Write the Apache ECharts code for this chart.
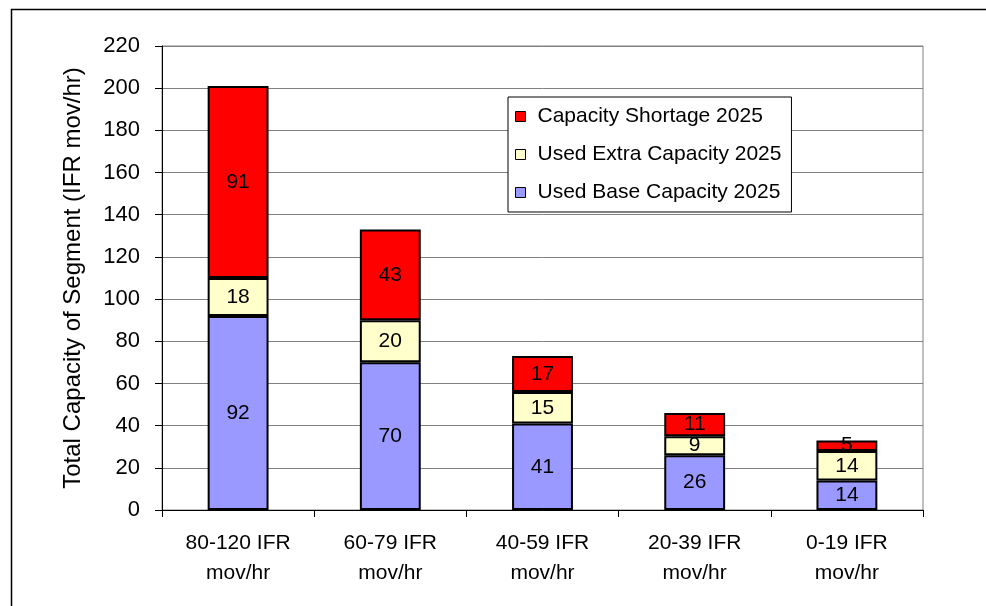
<!DOCTYPE html>
<html><head><meta charset="utf-8">
<script src="https://cdn.jsdelivr.net/npm/echarts@6/dist/echarts.min.js"></script>
<style>html,body{margin:0;padding:0;background:#fff}#c{width:986px;height:606px}</style>
</head><body><div id="c"></div>
<script>
const categories = ['80-120 IFR\nmov/hr', '60-79 IFR\nmov/hr', '40-59 IFR\nmov/hr', '20-39 IFR\nmov/hr', '0-19 IFR\nmov/hr'];
const baseCapacity = [92, 70, 41, 26, 14];
const extraCapacity = [18, 20, 15, 9, 14];
const shortage = [91, 43, 17, 11, 5];
const yTicks = {min: 0, max: 220, interval: 20};

const font = 'Liberation Sans, Arial, sans-serif';
function mk(name, data, color) {
  return {
    name, type: 'bar', stack: 't', data, barWidth: '40%',
    itemStyle: {color, borderColor: '#000', borderWidth: 2},
    label: {show: true, position: 'inside', color: '#000', fontSize: 21, fontFamily: font},
    emphasis: {disabled: true}
  };
}
const chart = echarts.init(document.getElementById('c'));
chart.setOption({
  animation: false,
  textStyle: {fontFamily: font},
  graphic: [{type: 'rect', left: 9, top: 7, shape: {width: 1000, height: 700}, style: {fill: 'none', stroke: '#000', lineWidth: 1.5}, silent: true}],
  grid: {left: 162, top: 46, right: 63, bottom: 96, show: true, borderColor: '#808080', borderWidth: 1},
  legend: {
    orient: 'vertical', left: 508, top: 97, padding: [9, 10, 9, 7],
    backgroundColor: '#fff', borderColor: '#000', borderWidth: 1,
    itemWidth: 10, itemHeight: 10, itemGap: 17, icon: 'rect',
    itemStyle: {borderColor: '#000', borderWidth: 1},
    textStyle: {fontSize: 21, color: '#000', fontFamily: font, padding: [0, 0, 0, 7]},
    data: ['Capacity Shortage 2025', 'Used Extra Capacity 2025', 'Used Base Capacity 2025']
  },
  xAxis: {
    type: 'category', data: categories,
    axisLine: {lineStyle: {color: '#000', width: 1}},
    axisTick: {show: true, length: 7, lineStyle: {color: '#000'}},
    axisLabel: {color: '#000', fontSize: 21, lineHeight: 30, margin: 18, fontFamily: font}
  },
  yAxis: {
    type: 'value', min: yTicks.min, max: yTicks.max, interval: yTicks.interval,
    name: 'Total Capacity of Segment (IFR mov/hr)', nameLocation: 'middle', nameGap: 77,
    nameTextStyle: {fontSize: 24, color: '#000', fontFamily: font},
    axisLine: {show: true, lineStyle: {color: '#000', width: 1}},
    axisTick: {show: true, length: 7, lineStyle: {color: '#000'}},
    axisLabel: {color: '#000', fontSize: 22, margin: 22, fontFamily: font},
    splitLine: {lineStyle: {color: '#808080', width: 1}}
  },
  series: [
    mk('Used Base Capacity 2025', baseCapacity, '#9999FF'),
    mk('Used Extra Capacity 2025', extraCapacity, '#FFFFCC'),
    mk('Capacity Shortage 2025', shortage, '#FF0000')
  ]
});
</script></body></html>
